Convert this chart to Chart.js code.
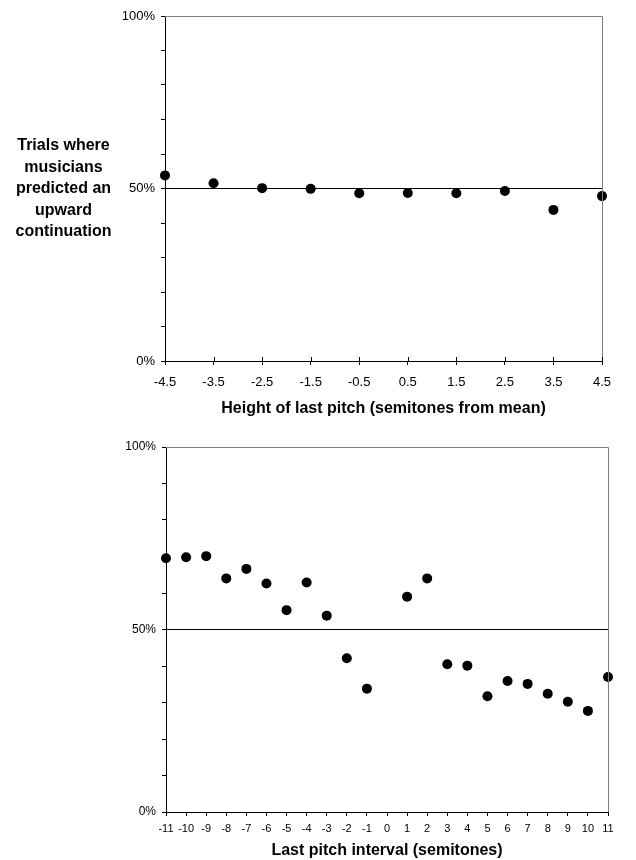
<!DOCTYPE html>
<html>
<head>
<meta charset="utf-8">
<script src="https://cdn.jsdelivr.net/npm/chart.js@4/dist/chart.umd.min.js"></script>
<style>
  html, body { margin: 0; padding: 0; background: #fff; }
  #wrap { position: relative; width: 636px; height: 860px; overflow: hidden; }
  #c1 { position: absolute; left: 0; top: 0; }
  #c2 { position: absolute; left: 0; top: 420px; }
  #ytitle {
    position: absolute; left: 0; top: 134px; width: 127px;
    font-family: "Liberation Sans", Arial, sans-serif; font-weight: bold;
    font-size: 16px; line-height: 21.5px; text-align: center; color: #000;
  }
</style>
</head>
<body>
<div id="wrap">
  <canvas id="c1" width="636" height="420"></canvas>
  <canvas id="c2" width="636" height="440"></canvas>
  <div id="ytitle">Trials where<br>musicians<br>predicted an<br>upward<br>continuation</div>
</div>
<script>
// ---- Data ----
const heightCategories = [-4.5, -3.5, -2.5, -1.5, -0.5, 0.5, 1.5, 2.5, 3.5, 4.5];
const heightUpwardPct  = [53.8, 51.5, 50.1, 49.9, 48.6, 48.7, 48.6, 49.3, 43.8, 47.8];

const intervalCategories = [-11, -10, -9, -8, -7, -6, -5, -4, -3, -2, -1, 1, 2, 3, 4, 5, 6, 7, 8, 9, 10, 11];
const intervalUpwardPct  = [69.5, 69.8, 70.1, 64.0, 66.6, 62.6, 55.3, 62.9, 53.8, 42.1, 33.8,
                            59.0, 64.0, 40.5, 40.1, 31.7, 35.9, 35.1, 32.4, 30.2, 27.7, 37.0];

const topXTicks    = [-4.5, -3.5, -2.5, -1.5, -0.5, 0.5, 1.5, 2.5, 3.5, 4.5];
const bottomXTicks = [-11, -10, -9, -8, -7, -6, -5, -4, -3, -2, -1, 0, 1, 2, 3, 4, 5, 6, 7, 8, 9, 10, 11];
const yTicks       = [0, 10, 20, 30, 40, 50, 60, 70, 80, 90, 100];
const yLabelledTicks = [0, 50, 100];
const referenceLevel = 50;

const topXTitle = 'Height of last pitch (semitones from mean)';
const bottomXTitle = 'Last pitch interval (semitones)';

Chart.defaults.font.family = '"Liberation Sans", Arial, sans-serif';
Chart.defaults.color = '#000';

const frameBorder = {
  id: 'frameBorder',
  afterDraw(chart, args, opts) {
    const { ctx, chartArea: a, scales } = chart;
    ctx.save();
    ctx.strokeStyle = '#7f7f7f';
    ctx.lineWidth = 1;
    ctx.beginPath();
    ctx.moveTo(a.left, a.top + 0.5);
    ctx.lineTo(a.right + 0.5, a.top + 0.5);
    ctx.lineTo(a.right + 0.5, a.bottom);
    ctx.stroke();
    if (opts.innerTicks) {
      ctx.strokeStyle = '#000';
      const xs = scales.x;
      xs.ticks.forEach(t => {
        const px = Math.round(xs.getPixelForValue(t.value)) + 0.5;
        ctx.beginPath();
        ctx.moveTo(px, a.bottom);
        ctx.lineTo(px, a.bottom - 4);
        ctx.stroke();
      });
    }
    ctx.restore();
  }
};

function makeChart(canvasId, cats, vals, xTicks, xTitle, cfg) {
  const xMin = xTicks[0], xMax = xTicks[xTicks.length - 1];
  return new Chart(document.getElementById(canvasId), {
    type: 'scatter',
    data: {
      datasets: [
        {
          type: 'scatter',
          data: cats.map((c, i) => ({ x: c, y: vals[i] })),
          backgroundColor: '#000',
          borderColor: '#000',
          borderWidth: 0,
          pointRadius: 5,
          pointHoverRadius: 5,
          clip: false,
          order: 1
        },
        {
          type: 'line',
          data: [{ x: xMin, y: referenceLevel }, { x: xMax, y: referenceLevel }],
          borderColor: '#000',
          borderWidth: 1,
          pointRadius: 0,
          fill: false,
          order: 2
        }
      ]
    },
    options: {
      responsive: false,
      animation: false,
      events: [],
      layout: { padding: cfg.padding },
      plugins: {
        legend: { display: false },
        tooltip: { enabled: false },
        frameBorder: { innerTicks: cfg.innerTicks }
      },
      scales: {
        x: {
          type: 'linear',
          min: xMin, max: xMax,
          afterBuildTicks: s => { s.ticks = xTicks.map(v => ({ value: v })); },
          afterFit: s => { s.height = cfg.xHeight; },
          grid: { drawOnChartArea: false, drawTicks: true, tickLength: 4, color: '#000', lineWidth: 1 },
          border: { display: true, color: '#000', width: 1 },
          ticks: {
            autoSkip: false, maxRotation: 0, minRotation: 0,
            padding: cfg.xTickPad,
            font: { size: cfg.xTickSize },
            color: '#000',
            callback: v => String(v)
          },
          title: {
            display: true, text: xTitle, color: '#000',
            font: { size: 16, weight: 'bold' },
            padding: { top: 0, bottom: cfg.titlePadBottom }
          }
        },
        y: {
          type: 'linear',
          min: 0, max: 100,
          afterBuildTicks: s => { s.ticks = yTicks.map(v => ({ value: v })); },
          afterFit: s => { s.width = cfg.yWidth; },
          grid: { drawOnChartArea: false, drawTicks: true, tickLength: 4, color: '#000', lineWidth: 1 },
          border: { display: true, color: '#000', width: 1 },
          ticks: {
            autoSkip: false,
            padding: 6,
            font: { size: cfg.yTickSize },
            color: '#000',
            callback: v => (yLabelledTicks.includes(v) ? v + '%' : '')
          }
        }
      }
    },
    plugins: [frameBorder]
  });
}

makeChart('c1', heightCategories, heightUpwardPct, topXTicks, topXTitle, {
  padding: { top: 16, right: 34, left: 0, bottom: 0 },
  xHeight: 59, yWidth: 165, xTickPad: 10, xTickSize: 13, yTickSize: 13,
  titlePadBottom: 2, innerTicks: true
});

makeChart('c2', intervalCategories, intervalUpwardPct, bottomXTicks, bottomXTitle, {
  padding: { top: 27, right: 28, left: 0, bottom: 0 },
  xHeight: 48, yWidth: 166, xTickPad: 6, xTickSize: 11, yTickSize: 12,
  titlePadBottom: 0, innerTicks: false
});
</script>
</body>
</html>
